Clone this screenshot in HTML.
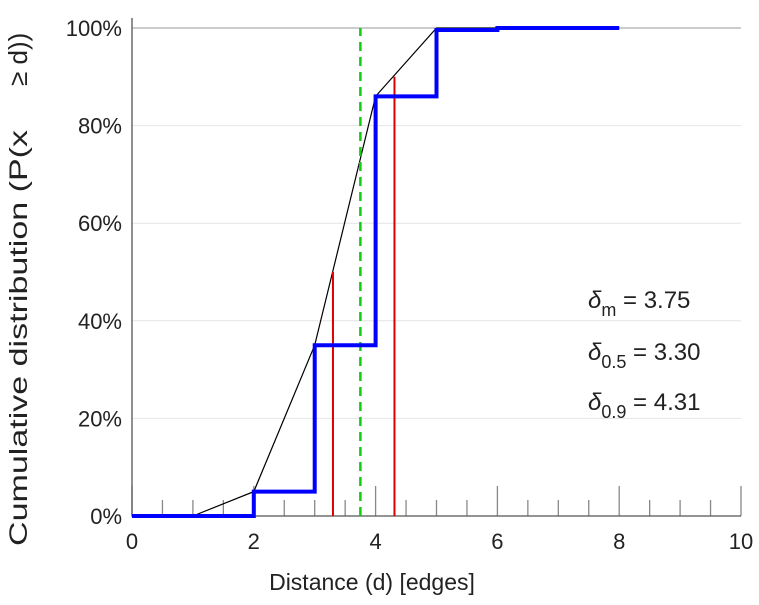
<!DOCTYPE html>
<html><head><meta charset="utf-8"><style>
body{margin:0;background:#fff}
svg text{font-family:"Liberation Sans",sans-serif;fill:#222}
</style></head><body>
<svg id="chart" width="759" height="600">
<g id="grid"></g><g id="axes"></g><g id="marks"></g>
<text x="372" y="590" font-size="23" text-anchor="middle">Distance (d) [edges]</text>
<g font-size="25">
<text transform="translate(27,546) rotate(-90)" text-anchor="start" textLength="416" lengthAdjust="spacingAndGlyphs">Cumulative distribution (P(x</text>
<text transform="translate(27,86) rotate(-90)" text-anchor="start" font-size="26">≥ d))</text>
</g>
<g font-size="24">
<text x="588" y="308"><tspan font-style="italic">δ</tspan><tspan font-size="18" dy="8">m</tspan><tspan dy="-8"> = 3.75</tspan></text>
<text x="588" y="360"><tspan font-style="italic">δ</tspan><tspan font-size="18" dy="8">0.5</tspan><tspan dy="-8"> = 3.30</tspan></text>
<text x="588" y="410"><tspan font-style="italic">δ</tspan><tspan font-size="18" dy="8">0.9</tspan><tspan dy="-8"> = 4.31</tspan></text>
</g>
</svg>
<script>
const stepX=[0,2,3,4,5,6,8];
const stepY=[0,5,35,86,99.6,100,100];
const lineX=[1,2,3,4,5,6,8];
const lineY=[0,5,35,86,100,100,100];
const quantX=[3.30,4.31];
const quantY=[50,90];
const meanX=3.75;
const xTicks=[0,2,4,6,8,10];
const yTicks=[0,20,40,60,80,100];
const NS="http://www.w3.org/2000/svg";
const X0=132,X1=741,Y0=516,Y1=28;
const sx=v=>X0+(X1-X0)*v/10, sy=v=>Y0-(Y0-Y1)*v/100;
function mk(parent,tag,a){const e=document.createElementNS(NS,tag);for(const k in a)e.setAttribute(k,a[k]);document.getElementById(parent).appendChild(e);return e;}
yTicks.forEach(t=>{
 const g=mk('grid','line',{x1:X0,x2:X1,y1:sy(t),y2:sy(t),stroke:t==100?'#999':'#e4e4e4','stroke-width':1});
 
 
 const l=mk('axes','text',{x:X0-10,y:sy(t)+8,'font-size':22,'text-anchor':'end'});l.textContent=t+'%';
 
 
});
for(let v=0;v<=10.001;v+=0.5){
 const major=Math.abs(v/2-Math.round(v/2))<1e-6;
 const t=mk('axes','line',{x1:sx(v),x2:sx(v),y1:Y0,y2:Y0-(major?30:16),stroke:'#888','stroke-width':1.3});
 
 
}
xTicks.forEach(t=>{const l=mk('axes','text',{x:sx(t),y:Y0+33,'font-size':22,'text-anchor':'middle'});l.textContent=t;
 
 });
const ax=mk('axes','path',{d:`M${X0},${Y1-10}V${Y0}H${X1}`,stroke:'#555',fill:'none','stroke-width':1.3});


let d=`M${sx(stepX[0])},${sy(stepY[0])}`;
for(let i=1;i<stepX.length;i++){d+=`H${sx(stepX[i])}V${sy(stepY[i])}`;}
const ln=mk('marks','path',{d:lineX.map((x,i)=>(i?'L':'M')+sx(x)+','+sy(lineY[i])).join(''),stroke:'#000',fill:'none','stroke-width':1.2});


quantX.forEach((q,i)=>{const r=mk('marks','line',{x1:sx(q),x2:sx(q),y1:Y0,y2:sy(quantY[i]),stroke:'#d00','stroke-width':2});
 
 });
const m=mk('marks','line',{x1:sx(meanX),x2:sx(meanX),y1:Y0,y2:Y1,stroke:'#1c1','stroke-width':2.5,'stroke-dasharray':'9,6'});


const st=mk('marks','path',{d:d,stroke:'#00f',fill:'none','stroke-width':4});


</script>
</body></html>
